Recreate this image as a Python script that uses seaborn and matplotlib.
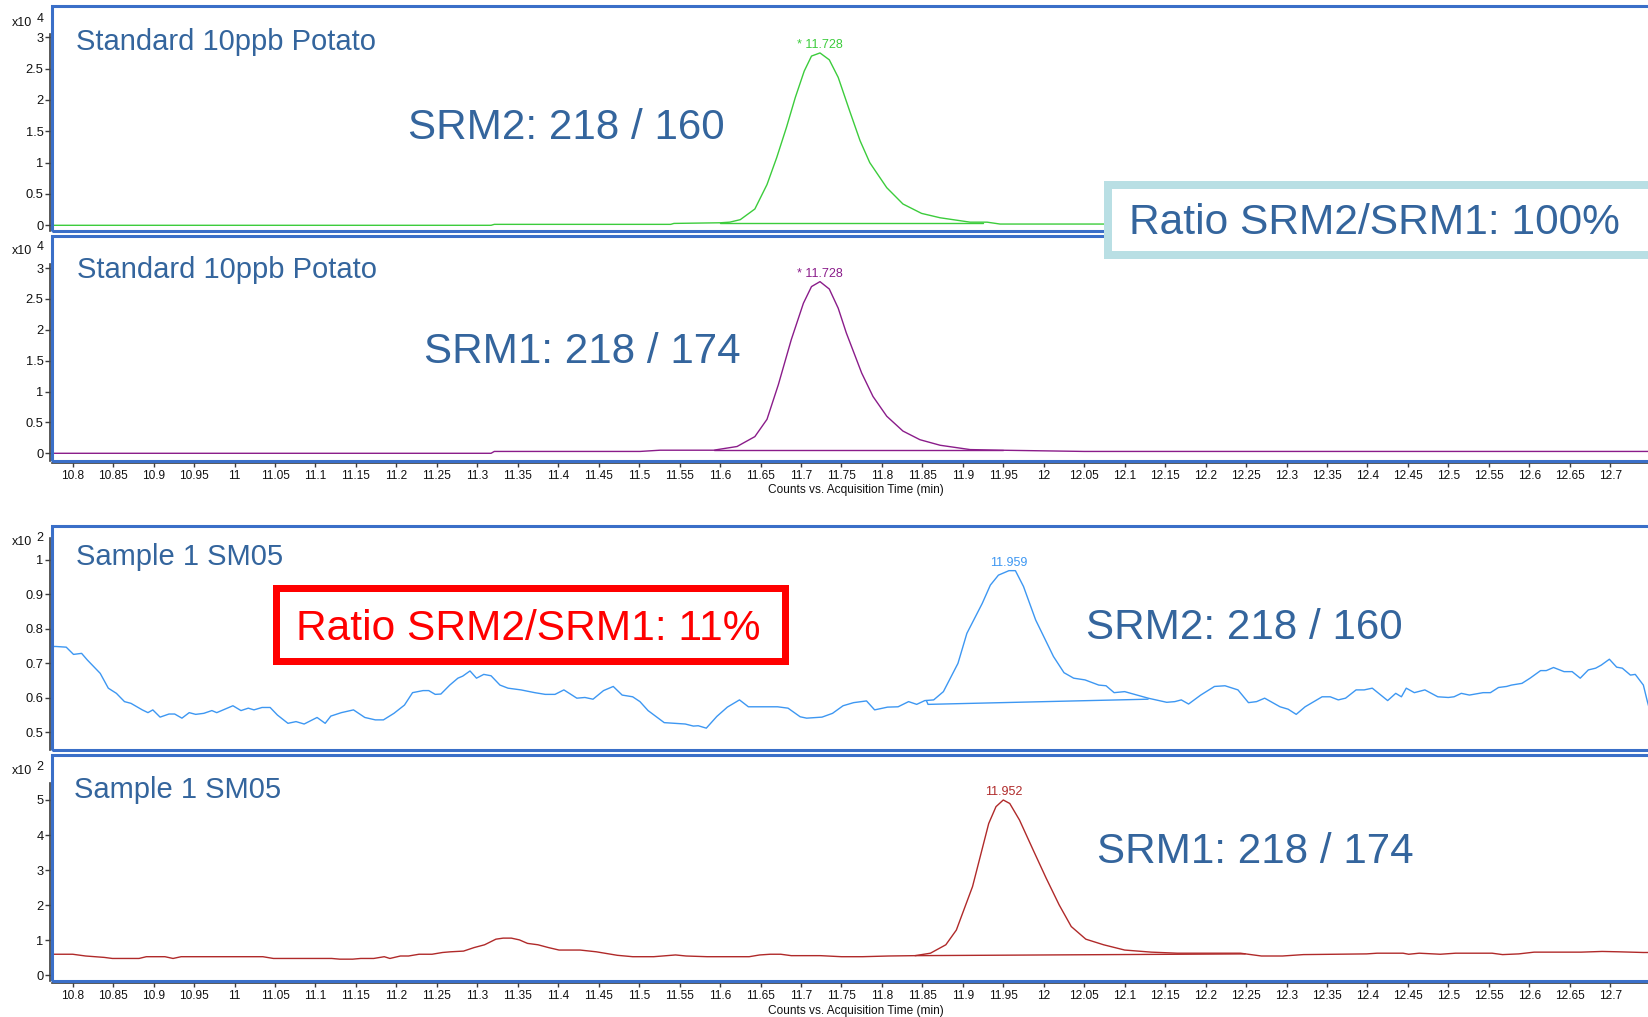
import numpy as np
import pandas as pd
import matplotlib
matplotlib.use("Agg")
import matplotlib.pyplot as plt
import seaborn as sns
from matplotlib.patches import Rectangle
from matplotlib.ticker import FixedLocator, FixedFormatter

# ---------------- data ----------------
xtick_labels = ["10.8", "10.85", "10.9", "10.95", "11", "11.05", "11.1", "11.15", "11.2", "11.25",
                "11.3", "11.35", "11.4", "11.45", "11.5", "11.55", "11.6", "11.65", "11.7", "11.75",
                "11.8", "11.85", "11.9", "11.95", "12", "12.05", "12.1", "12.15", "12.2", "12.25",
                "12.3", "12.35", "12.4", "12.45", "12.5", "12.55", "12.6", "12.65", "12.7"]
xtick_values = [float(s) for s in xtick_labels]

ytick_std = [0, 0.5, 1, 1.5, 2, 2.5, 3]
ytick_std_labels = ["0", "0.5", "1", "1.5", "2", "2.5", "3"]
ytick_s_srm2 = [0.5, 0.6, 0.7, 0.8, 0.9, 1.0]
ytick_s_srm2_labels = ["0.5", "0.6", "0.7", "0.8", "0.9", "1"]
ytick_s_srm1 = [0, 1, 2, 3, 4, 5]
ytick_s_srm1_labels = ["0", "1", "2", "3", "4", "5"]

panel_titles = ["Standard 10ppb Potato", "Standard 10ppb Potato", "Sample 1 SM05", "Sample 1 SM05"]
transition_labels = ["SRM2: 218 / 160", "SRM1: 218 / 174", "SRM2: 218 / 160", "SRM1: 218 / 174"]
peak_labels = ["* 11.728", "* 11.728", "11.959", "11.952"]
scale_exponents = ["4", "4", "2", "2"]
ratio_labels = ["Ratio SRM2/SRM1: 100%", "Ratio SRM2/SRM1: 11%"]
xaxis_label = "Counts vs. Acquisition Time (min)"

# Standard, SRM2 (x10^4 counts)
std_srm2_t = [10.7744, 11.317, 11.321, 11.539, 11.543, 11.600, 11.612, 11.625, 11.643, 11.658,
              11.670, 11.682, 11.693, 11.704, 11.713, 11.7235, 11.735, 11.746, 11.760, 11.773,
              11.785, 11.806, 11.826, 11.849, 11.872, 11.909, 11.930, 11.946, 12.05, 12.7566]
std_srm2_v = [0.0, 0.0, 0.015, 0.015, 0.03, 0.04, 0.05, 0.09, 0.26, 0.65,
              1.08, 1.56, 2.04, 2.46, 2.70, 2.75, 2.64, 2.36, 1.83, 1.35,
              1.00, 0.60, 0.34, 0.19, 0.12, 0.05, 0.05, 0.02, 0.02, 0.02]
std_srm2_base_t = [11.600, 11.925]
std_srm2_base_v = [0.043, 0.043]

# Standard, SRM1 (x10^4 counts)
std_srm1_t = [10.7744, 11.317, 11.321, 11.501, 11.526, 11.592, 11.621, 11.643, 11.658, 11.672,
              11.688, 11.703, 11.713, 11.7235, 11.735, 11.746, 11.756, 11.775, 11.789, 11.806,
              11.826, 11.847, 11.872, 11.909, 11.946, 12.05, 12.7566]
std_srm1_v = [0.0, 0.0, 0.03, 0.03, 0.05, 0.05, 0.11, 0.27, 0.55, 1.11,
              1.84, 2.43, 2.70, 2.78, 2.66, 2.35, 1.95, 1.30, 0.92, 0.60,
              0.36, 0.22, 0.13, 0.06, 0.05, 0.03, 0.03]
std_srm1_base_t = [11.592, 11.950]
std_srm1_base_v = [0.05, 0.05]

# Sample, SRM2 (x10^2 counts)
smp_srm2_t = [10.7744, 10.779, 10.792, 10.801, 10.811, 10.818, 10.834, 10.844, 10.854, 10.864,
              10.872, 10.886, 10.893, 10.899, 10.908, 10.919, 10.926, 10.935, 10.944, 10.952,
              10.962, 10.972, 10.978, 10.998, 11.008, 11.017, 11.024, 11.034, 11.044, 11.053,
              11.066, 11.076, 11.086, 11.102, 11.112, 11.119, 11.132, 11.147, 11.161, 11.174,
              11.184, 11.197, 11.210, 11.220, 11.233, 11.240, 11.248, 11.255, 11.266, 11.276,
              11.282, 11.291, 11.299, 11.308, 11.317, 11.328, 11.338, 11.354, 11.371, 11.384,
              11.396, 11.407, 11.423, 11.433, 11.443, 11.456, 11.468, 11.479, 11.492, 11.501,
              11.511, 11.531, 11.544, 11.557, 11.567, 11.573, 11.583, 11.596, 11.609, 11.624,
              11.635, 11.671, 11.684, 11.699, 11.707, 11.726, 11.739, 11.752, 11.765, 11.781,
              11.791, 11.807, 11.820, 11.833, 11.843, 11.853, 11.864, 11.876, 11.894, 11.905,
              11.924, 11.934, 11.944, 11.957, 11.965, 11.975, 11.990, 12.012, 12.025, 12.037,
              12.051, 12.068, 12.077, 12.087, 12.100, 12.129, 12.152, 12.162, 12.170, 12.179,
              12.194, 12.211, 12.224, 12.240, 12.253, 12.263, 12.273, 12.292, 12.302, 12.312,
              12.323, 12.344, 12.354, 12.364, 12.373, 12.386, 12.396, 12.406, 12.425, 12.435,
              12.442, 12.448, 12.458, 12.471, 12.487, 12.500, 12.507, 12.516, 12.526, 12.543,
              12.552, 12.562, 12.572, 12.578, 12.591, 12.601, 12.614, 12.621, 12.630, 12.643,
              12.653, 12.663, 12.673, 12.682, 12.689, 12.699, 12.708, 12.715, 12.725, 12.731,
              12.741, 12.746, 12.7566]
smp_srm2_v = [0.749, 0.749, 0.747, 0.726, 0.729, 0.710, 0.671, 0.628, 0.613, 0.589,
              0.584, 0.565, 0.557, 0.565, 0.544, 0.553, 0.553, 0.541, 0.557, 0.552,
              0.555, 0.563, 0.557, 0.577, 0.563, 0.570, 0.565, 0.572, 0.572, 0.550,
              0.526, 0.531, 0.524, 0.543, 0.526, 0.547, 0.557, 0.565, 0.543, 0.536,
              0.536, 0.555, 0.579, 0.615, 0.621, 0.621, 0.610, 0.611, 0.637, 0.657,
              0.663, 0.678, 0.657, 0.668, 0.664, 0.637, 0.628, 0.623, 0.615, 0.610,
              0.610, 0.623, 0.599, 0.601, 0.596, 0.621, 0.633, 0.608, 0.603, 0.589,
              0.563, 0.528, 0.526, 0.524, 0.518, 0.519, 0.512, 0.546, 0.573, 0.594,
              0.574, 0.574, 0.570, 0.545, 0.541, 0.544, 0.555, 0.577, 0.586, 0.591,
              0.565, 0.573, 0.574, 0.589, 0.581, 0.592, 0.594, 0.618, 0.700, 0.787,
              0.874, 0.927, 0.956, 0.969, 0.969, 0.923, 0.826, 0.720, 0.673, 0.657,
              0.652, 0.637, 0.635, 0.615, 0.618, 0.599, 0.587, 0.589, 0.594, 0.582,
              0.608, 0.633, 0.635, 0.623, 0.586, 0.589, 0.599, 0.574, 0.567, 0.552,
              0.574, 0.603, 0.603, 0.594, 0.599, 0.623, 0.623, 0.628, 0.592, 0.613,
              0.603, 0.628, 0.615, 0.623, 0.603, 0.601, 0.603, 0.613, 0.608, 0.615,
              0.615, 0.630, 0.633, 0.637, 0.642, 0.657, 0.679, 0.679, 0.688, 0.676,
              0.676, 0.657, 0.681, 0.686, 0.695, 0.712, 0.689, 0.686, 0.666, 0.668,
              0.637, 0.589, 0.500]
smp_srm2_base_t = [11.855, 11.857, 12.129]
smp_srm2_base_v = [0.592, 0.581, 0.596]

# Sample, SRM1 (x10^2 counts)
smp_srm1_t = [10.7744, 10.800, 10.816, 10.839, 10.849, 10.882, 10.891, 10.914, 10.924, 10.934,
              11.035, 11.048, 11.120, 11.130, 11.146, 11.156, 11.172, 11.185, 11.192, 11.205,
              11.215, 11.228, 11.244, 11.257, 11.267, 11.283, 11.296, 11.309, 11.323, 11.332,
              11.342, 11.352, 11.362, 11.375, 11.388, 11.401, 11.427, 11.447, 11.473, 11.492,
              11.518, 11.545, 11.558, 11.584, 11.636, 11.649, 11.662, 11.675, 11.688, 11.724,
              11.750, 11.776, 11.808, 11.841, 11.860, 11.879, 11.892, 11.912, 11.932, 11.941,
              11.950, 11.958, 11.970, 11.987, 12.003, 12.019, 12.034, 12.052, 12.074, 12.100,
              12.133, 12.165, 12.243, 12.269, 12.295, 12.321, 12.399, 12.412, 12.444, 12.451,
              12.464, 12.490, 12.509, 12.554, 12.567, 12.587, 12.606, 12.664, 12.690, 12.710,
              12.741, 12.7566]
smp_srm1_v = [0.60, 0.60, 0.55, 0.51, 0.48, 0.48, 0.53, 0.53, 0.48, 0.53,
              0.53, 0.48, 0.48, 0.46, 0.46, 0.48, 0.48, 0.53, 0.48, 0.55,
              0.55, 0.60, 0.60, 0.65, 0.67, 0.69, 0.79, 0.87, 1.03, 1.06,
              1.06, 1.01, 0.91, 0.87, 0.79, 0.72, 0.72, 0.67, 0.57, 0.53,
              0.53, 0.58, 0.55, 0.53, 0.53, 0.58, 0.60, 0.60, 0.56, 0.56,
              0.53, 0.53, 0.55, 0.56, 0.63, 0.87, 1.29, 2.53, 4.33, 4.81,
              5.00, 4.90, 4.43, 3.57, 2.77, 2.01, 1.39, 1.03, 0.87, 0.72,
              0.66, 0.63, 0.63, 0.55, 0.55, 0.59, 0.61, 0.63, 0.63, 0.60,
              0.63, 0.60, 0.63, 0.63, 0.59, 0.61, 0.66, 0.66, 0.68, 0.67,
              0.65, 0.65]
smp_srm1_base_t = [11.841, 12.249]
smp_srm1_base_v = [0.56, 0.61]

# ---------------- style / layout ----------------
W, H = 1648, 1017
sns.set_theme(style="white")
plt.rcParams["font.family"] = ["Liberation Sans", "DejaVu Sans"]

FRAME_BLUE = "#3a6fc8"
TEXT_BLUE = "#34659d"
AXIS_GREY = "#3c3c3c"
series_colors = ["#3ccc3c", "#8a1c8a", "#3d97f2", "#b02a2a"]

fig = plt.figure(figsize=(W / 100, H / 100), dpi=100)
fig.patch.set_facecolor("white")


def fx(x):
    return x / W


def fy(y):
    return 1 - y / H


AX_L, AX_R = 52, 1656
XLIM = (10.8 + (AX_L - 72.7) / 809.2, 10.8 + (AX_R - 72.7) / 809.2)

panels = [
    dict(top=6.3, bottom=230.5, ylim=(-0.083, 3.494), spine_top=3.06, xaxis=False,
         t=std_srm2_t, v=std_srm2_v, bt=std_srm2_base_t, bv=std_srm2_base_v,
         yt=ytick_std, ytl=ytick_std_labels),
    dict(top=236, bottom=460.7, ylim=(-0.12, 3.519), spine_top=3.06, xaxis=True,
         t=std_srm1_t, v=std_srm1_v, bt=std_srm1_base_t, bv=std_srm1_base_v,
         yt=ytick_std, ytl=ytick_std_labels),
    dict(top=526, bottom=750, ylim=(0.4486, 1.0986), spine_top=1.064, xaxis=False,
         t=smp_srm2_t, v=smp_srm2_v, bt=smp_srm2_base_t, bv=smp_srm2_base_v,
         yt=ytick_s_srm2, ytl=ytick_s_srm2_labels),
    dict(top=755, bottom=981, ylim=(-0.163, 6.283), spine_top=5.49, xaxis=True,
         t=smp_srm1_t, v=smp_srm1_v, bt=smp_srm1_base_t, bv=smp_srm1_base_v,
         yt=ytick_s_srm1, ytl=ytick_s_srm1_labels),
]

title_pos = [(76, 49.5), (77, 277.5), (76, 565), (74, 798)]
trans_pos = [(408, 139.3), (424, 363.3), (1086, 639), (1097, 863)]
x10_pos = [(12, 26), (12, 254), (12, 545), (12, 774)]
xlabel_pos = [(856, 490), (856, 1011)]

for i, g in enumerate(panels):
    ax = fig.add_axes([fx(AX_L), fy(g["bottom"]), (AX_R - AX_L) / W, (g["bottom"] - g["top"]) / H])
    ax.set_facecolor("white")
    color = series_colors[i]
    df = pd.DataFrame({"time": g["t"], "counts": g["v"]})
    sns.lineplot(data=df, x="time", y="counts", ax=ax, color=color, linewidth=1.0,
                 sort=False, estimator=None)
    ax.plot(g["bt"], g["bv"], color=color, linewidth=1.0)
    ax.set_xlim(XLIM)
    ax.set_ylim(g["ylim"])
    ax.set_xlabel("")
    ax.set_ylabel("")
    ax.grid(False)
    for s in ["top", "right", "bottom"]:
        ax.spines[s].set_visible(False)
    ax.spines["left"].set_position(("outward", 1.5))
    ax.spines["left"].set_color(AXIS_GREY)
    ax.spines["left"].set_linewidth(1.2)
    ax.spines["left"].set_bounds(g["ylim"][0], g["spine_top"])
    ax.yaxis.set_major_locator(FixedLocator(g["yt"]))
    ax.yaxis.set_major_formatter(FixedFormatter(g["ytl"]))
    ax.tick_params(axis="y", left=True, direction="out", length=3.5, width=1,
                   color=AXIS_GREY, labelsize=9.3, pad=1, labelcolor="#111111")
    if g["xaxis"]:
        sp = ax.spines["bottom"]
        sp.set_visible(True)
        sp.set_position(("outward", 1.5))
        sp.set_color(AXIS_GREY)
        sp.set_linewidth(1.2)
        ax.xaxis.set_major_locator(FixedLocator(xtick_values))
        ax.xaxis.set_major_formatter(FixedFormatter(xtick_labels))
        ax.tick_params(axis="x", bottom=True, direction="out", length=3, width=1,
                       color=AXIS_GREY, labelsize=8.6, pad=2, labelcolor="#111111")
    else:
        ax.set_xticks([])
    ax.add_patch(Rectangle((0, 0), 1, 1, transform=ax.transAxes, fill=False,
                           edgecolor=FRAME_BLUE, linewidth=2.2, clip_on=False, zorder=10))

    # peak label
    k = int(np.argmax(g["v"]))
    ax.annotate(peak_labels[i], xy=(g["t"][k], g["v"][k]), xytext=(0, 3.5),
                textcoords="offset points", ha="center", va="baseline",
                fontsize=9, color=color)

    # panel texts
    tx, ty = title_pos[i]
    fig.text(fx(tx), fy(ty), panel_titles[i], ha="left", va="baseline",
             fontsize=21, color=TEXT_BLUE)
    sx, sy = trans_pos[i]
    fig.text(fx(sx), fy(sy), transition_labels[i], ha="left", va="baseline",
             fontsize=30.3, color=TEXT_BLUE)
    ex, ey = x10_pos[i]
    fig.text(fx(ex), fy(ey), "x10", ha="left", va="baseline", fontsize=9, color="#111111")
    fig.text(fx(ex + 24.5), fy(ey - 4), scale_exponents[i], ha="left", va="baseline",
             fontsize=9, color="#111111")

for (lx, ly) in xlabel_pos:
    fig.text(fx(lx), fy(ly), xaxis_label, ha="center", va="center", fontsize=8.6, color="#111111")

# ratio boxes
def box(x0, y0, x1, y1, ec, lw_px):
    fig.add_artist(Rectangle((fx(x0), fy(y1)), (x1 - x0) / W, (y1 - y0) / H,
                             transform=fig.transFigure, facecolor="white", edgecolor=ec,
                             linewidth=lw_px * 0.72, zorder=20))

box(1108, 184.7, 1664, 255, "#b9dfe4", 8)
fig.text(fx(1129), fy(234), ratio_labels[0], ha="left", va="baseline", fontsize=30.6,
         color=TEXT_BLUE, zorder=21)

box(276.1, 588.4, 785.3, 660.6, "#ff0000", 7)
fig.text(fx(296), fy(640), ratio_labels[1], ha="left", va="baseline", fontsize=30.6,
         color="#ff0000", zorder=21)

fig.savefig("out.png", dpi=100, facecolor="white")
